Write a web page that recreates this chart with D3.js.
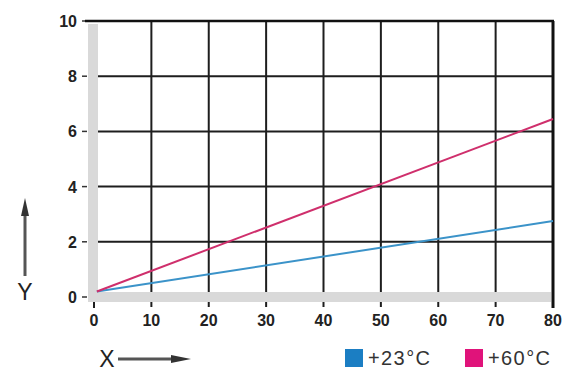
<!DOCTYPE html>
<html>
<head>
<meta charset="utf-8">
<script src="https://cdn.jsdelivr.net/npm/d3@7"></script>
<style>
  body { margin: 0; background: #fff; }
  svg { display: block; font-family: "Liberation Sans", Arial, sans-serif; }
</style>
</head>
<body>
<div id="chart"></div>
<script>
// data
var xTicks = [0, 10, 20, 30, 40, 50, 60, 70, 80];
var yTicks = [0, 2, 4, 6, 8, 10];
var seriesNames = ["+23°C", "+60°C"];
var seriesColors = ["#3b93c9", "#cf2f6c"];
var legendColors = ["#1b7ec3", "#e0137a"];
var lowX = [0.5, 80];
var low23 = [0.2, 2.75];
var high60 = [0.2, 6.45];

var width = 570, height = 387;
var svg = d3.select("#chart").append("svg")
  .attr("width", width).attr("height", height);

var x = d3.scaleLinear().domain([0, 80]).range([94, 553]);
var y = d3.scaleLinear().domain([0, 10]).range([297, 21]);

// vertical grid lines (with ticks below the band)
svg.selectAll("line.vgrid").data(xTicks.slice(1, -1)).enter().append("line")
  .attr("x1", function(d) { return x(d); }).attr("x2", function(d) { return x(d); })
  .attr("y1", y(10)).attr("y2", 307)
  .attr("stroke", "#1e1e1e").attr("stroke-width", 2);

// horizontal grid lines
svg.selectAll("line.hgrid").data(yTicks.slice(1)).enter().append("line")
  .attr("x1", 98).attr("x2", x(80))
  .attr("y1", function(d) { return y(d); }).attr("y2", function(d) { return y(d); })
  .attr("stroke", "#1e1e1e").attr("stroke-width", 2);

// small dashes left of y axis
svg.selectAll("line.ydash").data(yTicks).enter().append("line")
  .attr("x1", 82).attr("x2", 87)
  .attr("y1", function(d) { return y(d); }).attr("y2", function(d) { return y(d); })
  .attr("stroke", "#333").attr("stroke-width", 1.5);

// gray axis bands
svg.append("rect").attr("x", 88).attr("y", y(10) + 3).attr("width", 10).attr("height", 302 - y(10) - 3)
  .attr("fill", "#d9d9d9");
svg.append("rect").attr("x", 88).attr("y", y(0) - 5).attr("width", x(80) - 90).attr("height", 10)
  .attr("fill", "#d9d9d9");

// tick under the band for 0
svg.append("line").attr("x1", x(0)).attr("x2", x(0)).attr("y1", 302).attr("y2", 308)
  .attr("stroke", "#1e1e1e").attr("stroke-width", 2);

// top line and right border
svg.append("line").attr("x1", 85).attr("x2", x(80) + 1).attr("y1", y(10)).attr("y2", y(10))
  .attr("stroke", "#111").attr("stroke-width", 2.5);
svg.append("line").attr("x1", x(80)).attr("x2", x(80)).attr("y1", y(10)).attr("y2", 308)
  .attr("stroke", "#111").attr("stroke-width", 3);

// series lines
var line = d3.line()
  .x(function(d) { return x(d[0]); })
  .y(function(d) { return y(d[1]); });
var series = [low23, high60].map(function(vals) {
  return lowX.map(function(v, i) { return [v, vals[i]]; });
});
svg.selectAll("path.series").data(series).enter().append("path")
  .attr("d", line).attr("fill", "none")
  .attr("stroke", function(d, i) { return seriesColors[i]; })
  .attr("stroke-width", 2);

// tick labels
svg.selectAll("text.ylab").data(yTicks).enter().append("text")
  .attr("x", 77).attr("y", function(d) { return y(d) + 6; })
  .attr("text-anchor", "end").attr("font-size", 16).attr("font-weight", "bold")
  .attr("fill", "#222").text(function(d) { return d; });
svg.selectAll("text.xlab").data(xTicks).enter().append("text")
  .attr("x", function(d) { return x(d); }).attr("y", 326)
  .attr("text-anchor", "middle").attr("font-size", 16).attr("font-weight", "bold")
  .attr("fill", "#222").text(function(d) { return d; });

// axis names with arrows
svg.append("text").attr("x", 25).attr("y", 300).attr("text-anchor", "middle")
  .attr("font-size", 23).attr("fill", "#222").text("Y");
svg.append("line").attr("x1", 25).attr("x2", 25).attr("y1", 276).attr("y2", 212)
  .attr("stroke", "#555").attr("stroke-width", 3);
svg.append("path").attr("d", "M25,198 L21,216 L29,216 Z").attr("fill", "#333");

svg.append("text").attr("x", 107).attr("y", 367).attr("text-anchor", "middle")
  .attr("font-size", 23).attr("fill", "#222").text("X");
svg.append("line").attr("x1", 118).attr("x2", 176).attr("y1", 359).attr("y2", 359)
  .attr("stroke", "#555").attr("stroke-width", 3);
svg.append("path").attr("d", "M191,359 L171,355 L171,363 Z").attr("fill", "#333");

// legend
var legX = [345, 465];
var leg = svg.selectAll("g.leg").data(seriesNames).enter().append("g")
  .attr("transform", function(d, i) { return "translate(" + legX[i] + ",349)"; });
leg.append("rect").attr("width", 18).attr("height", 18)
  .attr("fill", function(d, i) { return legendColors[i]; });
leg.append("text").attr("x", 23).attr("y", 16).attr("font-size", 20)
  .attr("letter-spacing", 1.4).attr("fill", "#333").text(function(d) { return d; });
</script>
</body>
</html>
